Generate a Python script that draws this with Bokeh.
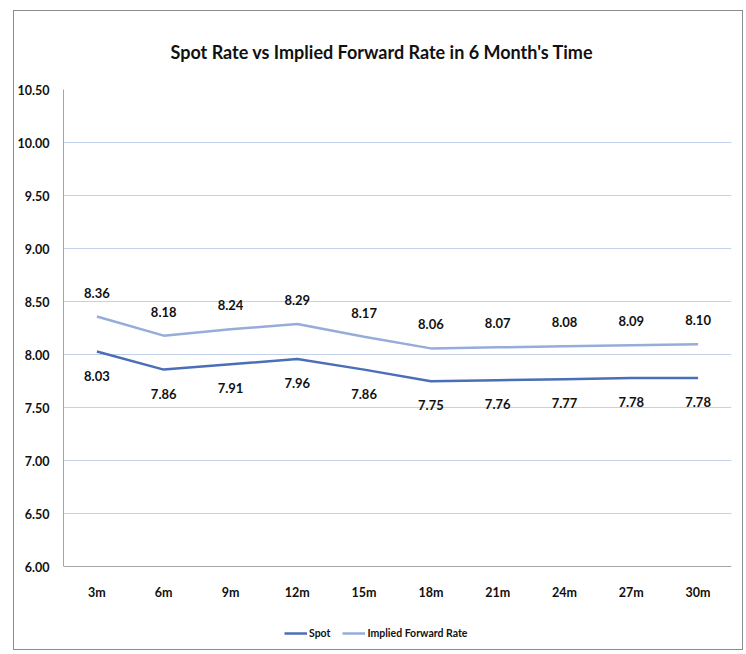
from bokeh.plotting import figure
from bokeh.models import ColumnDataSource, LabelSet, Legend, LegendItem, FixedTicker, NumeralTickFormatter, Range1d
from bokeh.core.properties import value
from bokeh.embed import file_html
from bokeh.resources import INLINE

categories = ["3m", "6m", "9m", "12m", "15m", "18m", "21m", "24m", "27m", "30m"]
spot = [8.03, 7.86, 7.91, 7.96, 7.86, 7.75, 7.76, 7.77, 7.78, 7.78]
implied = [8.36, 8.18, 8.24, 8.29, 8.17, 8.06, 8.07, 8.08, 8.09, 8.10]
y_ticks = [6.0, 6.5, 7.0, 7.5, 8.0, 8.5, 9.0, 9.5, 10.0, 10.5]
y_min, y_max = 6.0, 10.5

FONT = "Lato"
SPOT_C = "#4a6fb8"
IMPL_C = "#96acd9"

src = ColumnDataSource(dict(
    cat=categories, spot=spot, implied=implied,
    spot_lbl=[f"{v:.2f}" for v in spot],
    impl_lbl=[f"{v:.2f}" for v in implied],
))

# frame extends below the 6.00 baseline so the legend can sit inside it
p = figure(x_range=categories, y_range=Range1d(5.241, y_max), width=730, height=640,
           output_backend="svg", toolbar_location=None,
           min_border_left=37, min_border_right=13, min_border_top=75, min_border_bottom=4,
           styles={"border": "1px solid #8c8c8c", "margin-left": "13px", "margin-top": "10px"})

p.title.text = "Spot Rate vs Implied Forward Rate in 6 Month's Time"
p.title.text_font = FONT
p.title.text_font_size = "18px"
p.title.text_font_style = "bold"
p.title.align = "left"
p.title.offset = 107
p.title.text_color = "#111111"
p.title.standoff = 54

p.outline_line_color = None
p.xgrid.grid_line_color = None
p.ygrid.grid_line_color = "#c3d2ea"
p.ygrid.grid_line_width = 1
p.yaxis.ticker = FixedTicker(ticks=y_ticks)
p.yaxis.formatter = NumeralTickFormatter(format="0.00")
p.yaxis.bounds = (y_min, y_max)
p.xaxis.fixed_location = y_min
for ax in (p.xaxis, p.yaxis):
    ax.axis_line_color = "#a6a6a6"
    ax.major_tick_line_color = None
    ax.minor_tick_line_color = None
    ax.major_label_text_font = FONT
    ax.major_label_text_font_size = "12.5px"
    ax.major_label_text_font_style = "bold"
    ax.major_label_text_color = "#111111"
p.yaxis.major_label_standoff = 8
p.xaxis.major_label_standoff = 12

r1 = p.line("cat", "spot", source=src, line_color=SPOT_C, line_width=2.5)
r2 = p.line("cat", "implied", source=src, line_color=IMPL_C, line_width=2.5)

lbl_impl = LabelSet(x="cat", y="implied", text="impl_lbl", source=src, y_offset=24,
                    text_align="center", text_baseline="middle",
                    text_font=value(FONT), text_font_size=value("13px"), text_font_style=value("bold"),
                    text_color=value("#111111"))
lbl_spot = LabelSet(x="cat", y="spot", text="spot_lbl", source=src, y_offset=-24,
                    text_align="center", text_baseline="middle",
                    text_font=value(FONT), text_font_size=value("13px"), text_font_style=value("bold"),
                    text_color=value("#111111"))
p.add_layout(lbl_impl)
p.add_layout(lbl_spot)

legend = Legend(items=[LegendItem(label="Spot", renderers=[r1]),
                       LegendItem(label="Implied Forward Rate", renderers=[r2])],
                orientation="horizontal", location=(221, 4),
                label_text_font=FONT, label_text_font_size="10.5px", label_text_font_style="bold",
                label_text_color="#111111", border_line_color=None, background_fill_alpha=0,
                glyph_width=23, label_standoff=2, spacing=12, padding=4, margin=0)
p.add_layout(legend, "center")

open("out.html", "w").write(file_html(p, INLINE))
